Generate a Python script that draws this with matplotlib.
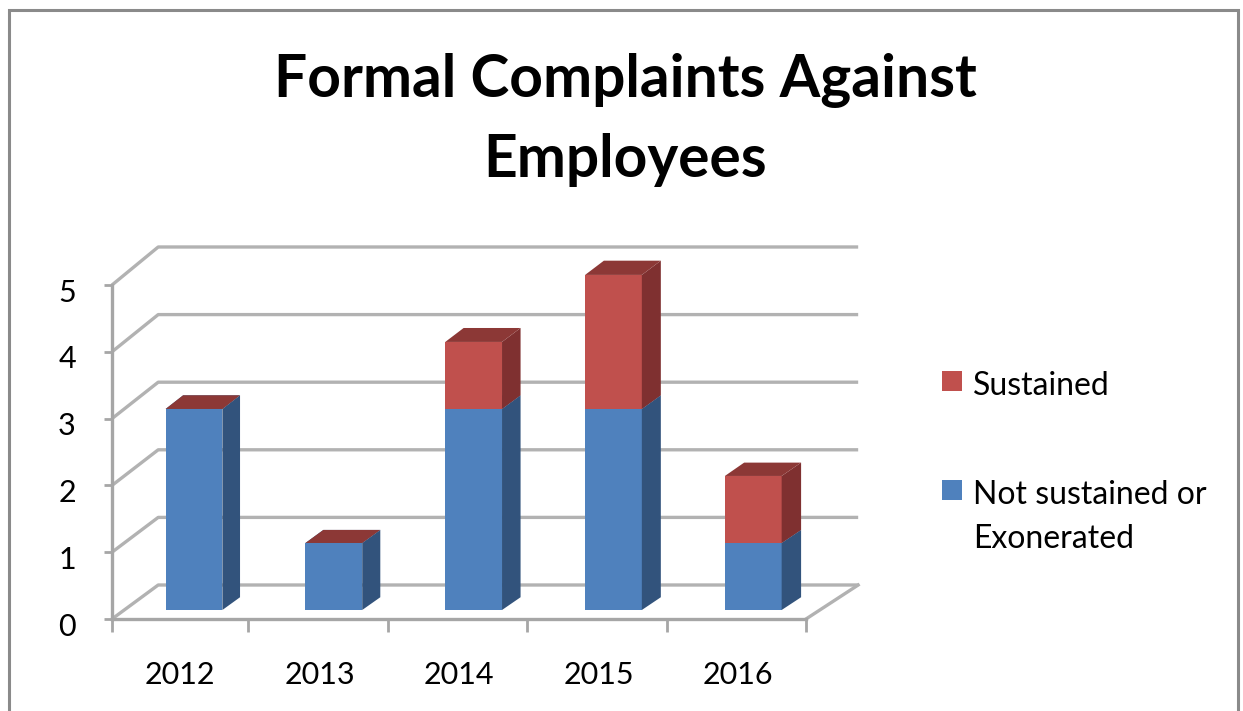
import matplotlib
matplotlib.use("Agg")
import matplotlib.pyplot as plt
from matplotlib.patches import Polygon, Rectangle
from matplotlib.transforms import ScaledTranslation

plt.rcParams['font.family'] = ['Lato', 'DejaVu Sans']

years = ["2012", "2013", "2014", "2015", "2016"]
not_sustained = [3, 1, 3, 3, 1]
sustained = [0, 0, 1, 2, 1]
y_ticks = [0, 1, 2, 3, 4, 5]

W, H = 1243, 711

# fake 3d: depth moves a point right and up in data units,
# the back wall is also a bit bigger than the front
DX = 0.331
DY = 0.509
X_START = 0.025  # the first category is cut a little short on the left


def proj(x, v, d):
    return (x * (1 + 0.0086 * d) + d * DX, v * (1 + 0.012 * d) + d * DY)


def box(ax, x0, x1, v0, v1, d0, d1, front, side, top):
    ax.add_patch(Polygon([proj(x0, v0, d0), proj(x1, v0, d0), proj(x1, v1, d0), proj(x0, v1, d0)],
                         closed=True, fc=front, ec='none', clip_on=False, zorder=3))
    ax.add_patch(Polygon([proj(x1, v0, d0), proj(x1, v0, d1), proj(x1, v1, d1), proj(x1, v1, d0)],
                         closed=True, fc=side, ec='none', clip_on=False, zorder=3))
    ax.add_patch(Polygon([proj(x0, v1, d0), proj(x1, v1, d0), proj(x1, v1, d1), proj(x0, v1, d1)],
                         closed=True, fc=top, ec='none', clip_on=False, zorder=3))


fig = plt.figure(figsize=(W / 100, H / 100), dpi=100)

#Outer frame, its bottom edge is cut off by the image
fig.add_artist(Rectangle((9 / W, -0.05), (1238 - 9) / W, 1.05 - 10 / H, transform=fig.transFigure,
                         fc='white', ec='#8a8a8a', lw=2.2, zorder=-1))

ax = fig.add_axes([112 / W, (H - 619) / H, 694 / W, 334 / H])
ax.set_xlim(X_START, 5)
ax.set_ylim(0, 5)
ax.patch.set_alpha(0)
for s in ['top', 'right']:
    ax.spines[s].set_visible(False)
for s in ['left', 'bottom']:
    ax.spines[s].set_color('#a6a6a6')
    ax.spines[s].set_linewidth(2.4)

grid = '#b2b2b2'
for v in y_ticks:
    xs, ys = zip(proj(X_START, v, 0), proj(X_START, v, 1), proj(5, v, 1))
    ax.plot(xs, ys, color=grid, lw=2.4, clip_on=False, zorder=1, solid_capstyle='butt')
xs, ys = zip(proj(5, 0, 0), proj(5, 0, 1))
ax.plot(xs, ys, color=grid, lw=2.4, clip_on=False, zorder=1)

for i in range(len(years)):
    x0 = i + 0.524 - 0.203
    x1 = i + 0.524 + 0.203
    a = not_sustained[i]
    b = a + sustained[i]
    box(ax, x0, x1, 0, a, 0.265, 0.64, '#4f81bd', '#32537c', '#3a6595')
    box(ax, x0, x1, a, b, 0.265, 0.64, '#c0504d', '#7f3030', '#8c3836')

ax.set_xticks([X_START, 1, 2, 3, 4, 5])
ax.set_xticklabels([])
ax.set_xticks([i + 0.515 for i in range(5)], labels=years, minor=True)
ax.tick_params(axis='x', which='major', length=9, width=2, color='#a6a6a6', direction='out')
ax.tick_params(axis='x', which='minor', length=0, pad=30, labelsize=22, labelcolor='black')
ax.set_yticks(y_ticks)
ax.tick_params(axis='y', length=6, width=2, color='#a6a6a6', labelsize=22, pad=20, labelcolor='black')

#Tick labels in the reference sit a little below their ticks
down = ScaledTranslation(0, -5 / 100, fig.dpi_scale_trans)
for lab in ax.get_yticklabels():
    lab.set_transform(lab.get_transform() + down)

fig.text(625 / W, 1 - 81 / H, "Formal Complaints Against", ha='center', va='center',
         fontsize=42.2, fontweight='bold', color='black')
fig.text(625 / W, 1 - 160 / H, "Employees", ha='center', va='center',
         fontsize=42.2, fontweight='bold', color='black')

#Legend, second entry has its swatch on the first text line
fig.add_artist(Rectangle((942 / W, 1 - 391 / H), 20 / W, 20 / H, transform=fig.transFigure, fc='#c0504d', ec='none'))
fig.add_artist(Rectangle((942 / W, 1 - 500 / H), 20 / W, 20 / H, transform=fig.transFigure, fc='#4f81bd', ec='none'))
fig.text(973 / W, 1 - 386 / H, "Sustained", ha='left', va='center', fontsize=23)
fig.text(973 / W, 1 - 495 / H, "Not sustained or", ha='left', va='center', fontsize=23)
fig.text(973 / W, 1 - 539 / H, "Exonerated", ha='left', va='center', fontsize=23)

fig.savefig("out.png", dpi=100)
